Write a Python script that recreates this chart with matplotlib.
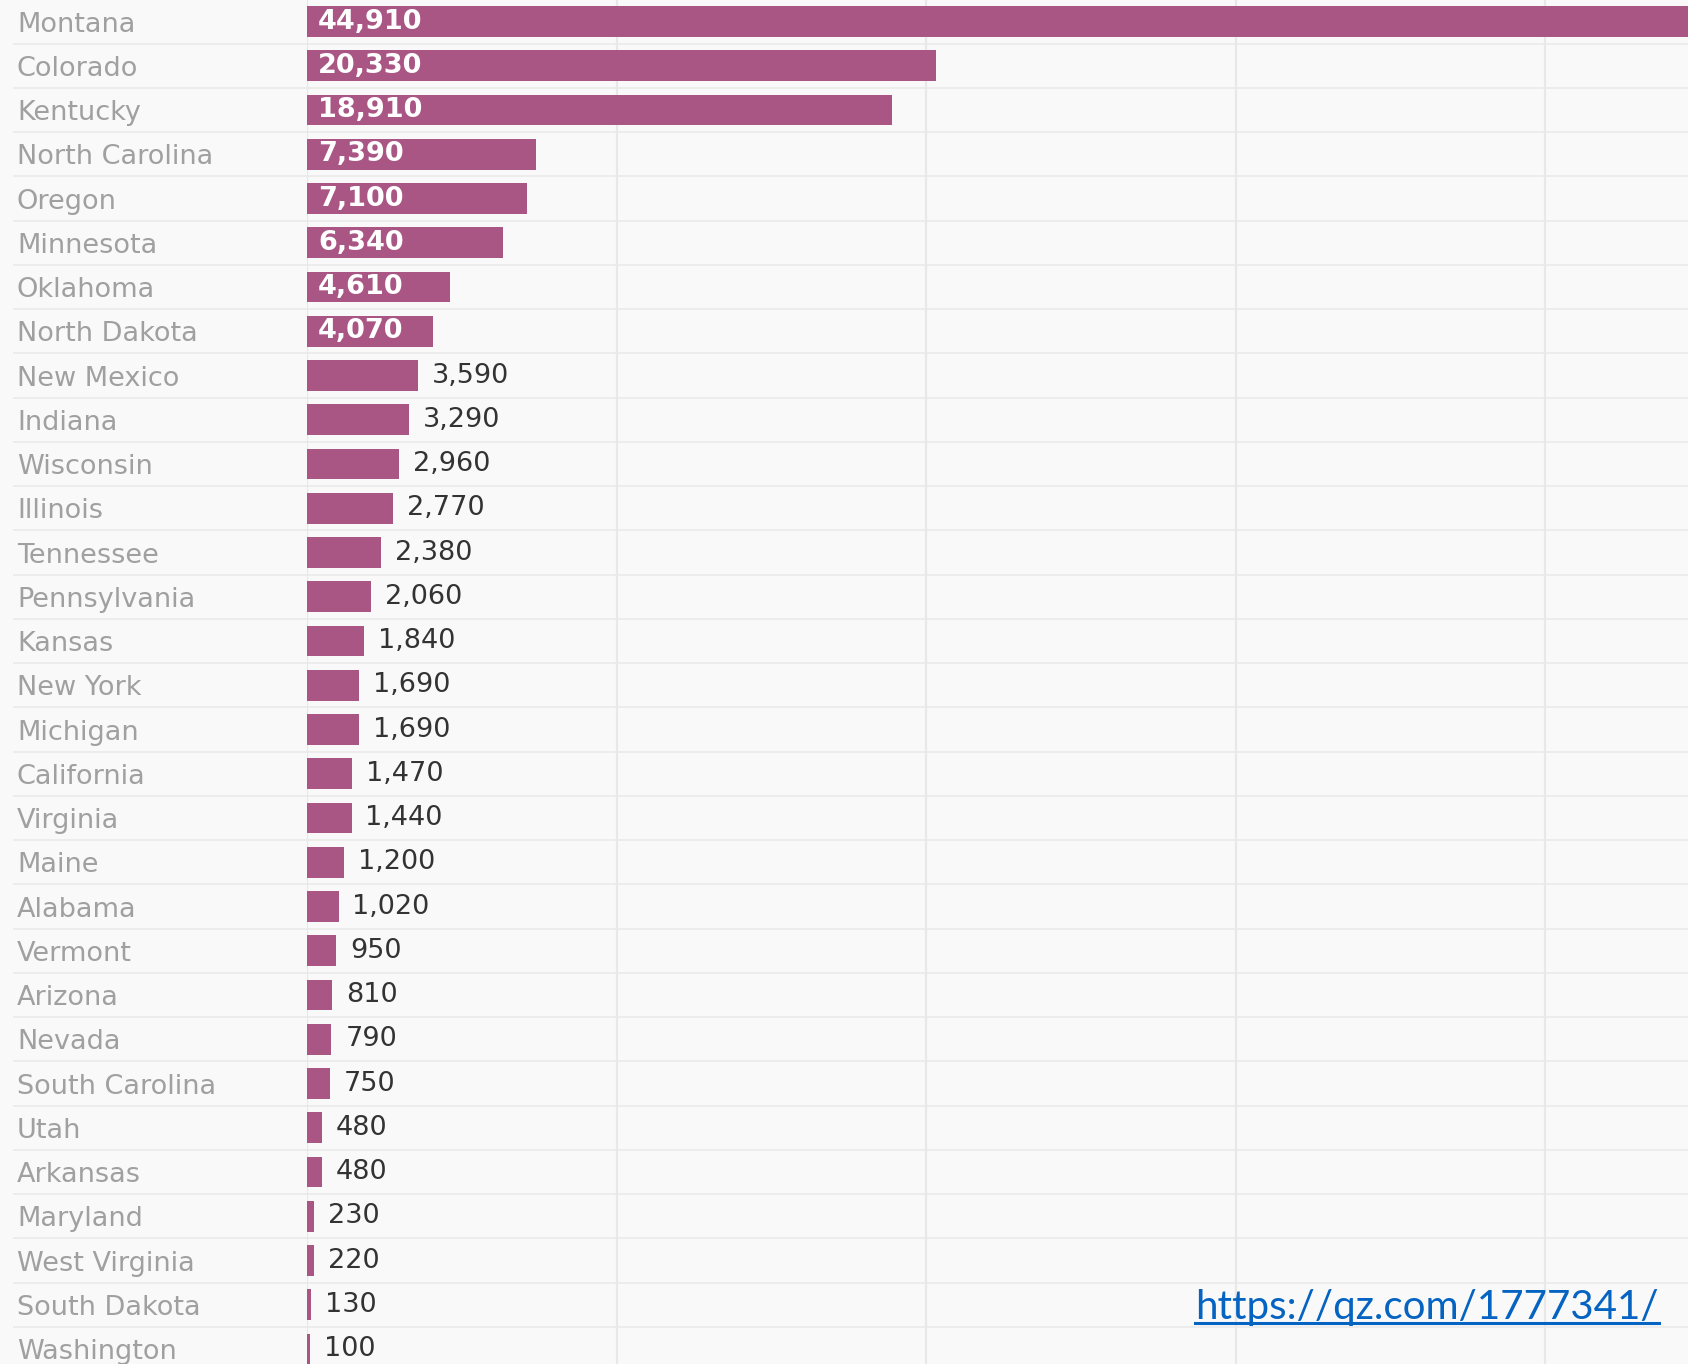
import matplotlib.pyplot as plt
from matplotlib.lines import Line2D

states = ['Montana', 'Colorado', 'Kentucky', 'North Carolina', 'Oregon', 'Minnesota',
          'Oklahoma', 'North Dakota', 'New Mexico', 'Indiana', 'Wisconsin', 'Illinois',
          'Tennessee', 'Pennsylvania', 'Kansas', 'New York', 'Michigan', 'California',
          'Virginia', 'Maine', 'Alabama', 'Vermont', 'Arizona', 'Nevada', 'South Carolina',
          'Utah', 'Arkansas', 'Maryland', 'West Virginia', 'South Dakota', 'Washington']
values = [44910, 20330, 18910, 7390, 7100, 6340, 4610, 4070, 3590, 3290, 2960, 2770,
          2380, 2060, 1840, 1690, 1690, 1470, 1440, 1200, 1020, 950, 810, 790, 750,
          480, 480, 230, 220, 130, 100]
url = 'https://qz.com/1777341/'

W, H = 1688, 1364
bg = '#f9f9f9'
bar_col = '#aa5685'

fig = plt.figure(figsize=(W / 100, H / 100), dpi=100, facecolor=bg)
x0 = 307 / W
ax = fig.add_axes([x0, 0, 1 - x0, 1], facecolor=bg)

ypos = list(range(len(states)))
ax.barh(ypos, values, height=0.7, color=bar_col, zorder=3)

# 0 at px 307, 10000 per 309.5 px
ax.set_xlim(0, (W - 307) / 309.5 * 10000)
ax.set_ylim((H - 21.5) / 44.25, -21.5 / 44.25)

ax.set_xticks([0, 10000, 20000, 30000, 40000])
ax.grid(axis='x', color='#e8e8e8', lw=1.6, zorder=0)
ax.tick_params(axis='x', length=0, labelbottom=False)
for s in ax.spines.values():
    s.set_visible(False)

# row separators extending under the state labels
for i in range(len(states) - 1):
    ax.axhline(i + 0.5, xmin=-(307 - 14) / (W - 307), xmax=1, color='#ececec',
               lw=1.4, clip_on=False, zorder=1)

ax.set_yticks(ypos)
ax.set_yticklabels(states, fontsize=19.5, color='#a0a0a0', family='DejaVu Sans')
ax.tick_params(axis='y', length=0, pad=(307 - 17) * 0.72)
for lab in ax.get_yticklabels():
    lab.set_horizontalalignment('left')

for y, v in zip(ypos, values):
    txt = f'{v:,}'
    if v >= 4000:
        ax.annotate(txt, (0, y), xytext=(8, 0), textcoords='offset points',
                    va='center', ha='left', color='white', fontsize=19.5,
                    fontweight='bold', zorder=4)
    else:
        ax.annotate(txt, (v, y), xytext=(10, 0), textcoords='offset points',
                    va='center', ha='left', color='#333333', fontsize=19.5, zorder=4)

t = fig.text(1195 / W, 1 - 1319 / H, url, color='#0563c1', fontsize=29,
             family='Lato', ha='left', va='baseline')
fig.canvas.draw()
bb = t.get_window_extent()
fig.add_artist(Line2D([bb.x0, bb.x1], [bb.y0 + 3, bb.y0 + 3], color='#0563c1', lw=2.2,
                      transform=None))

fig.savefig('out.png', dpi=100, facecolor=bg)
